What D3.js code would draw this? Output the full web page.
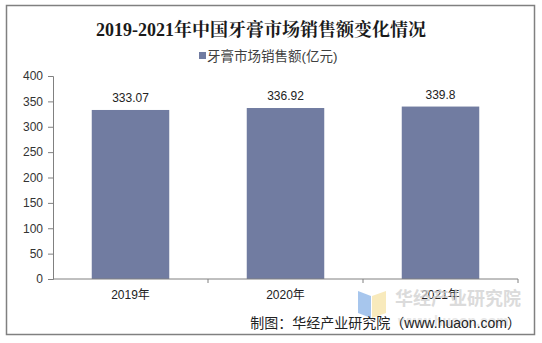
<!DOCTYPE html>
<html>
<head>
<meta charset="utf-8">
<script src="https://cdn.jsdelivr.net/npm/d3@7/dist/d3.min.js"></script>
<style>
  html, body { margin: 0; padding: 0; background: #fff; }
  svg { display: block; }
</style>
</head>
<body>
<svg id="chart" width="542" height="343"></svg>
<script>
// Toothpaste market sales in China, 2019–2021 (100 million yuan)
const categories = ["2019年", "2020年", "2021年"];
const salesValues = [333.07, 336.92, 339.8];
const valueLabels = ["333.07", "336.92", "339.8"];
const yTicks = [0, 50, 100, 150, 200, 250, 300, 350, 400];
const seriesName = "牙膏市场销售额(亿元)";
const titleText = "2019-2021年中国牙膏市场销售额变化情况";
const sourceText = "制图：华经产业研究院（www.huaon.com）";

const svg = d3.select("#chart");
const sans = "Arial, 'Liberation Sans', 'Noto Sans CJK SC', sans-serif";
const serif = "'Liberation Serif', 'Noto Serif CJK SC', 'Noto Sans CJK SC', serif";
const barColor = "#717ca1";

// outer frame
svg.append("rect")
  .attr("x", 6.5).attr("y", 5.5).attr("width", 528).attr("height", 329)
  .attr("fill", "#fff").attr("stroke", "#808080").attr("stroke-width", 1.5);

// title
svg.append("text")
  .attr("x", 261).attr("y", 36)
  .attr("text-anchor", "middle")
  .attr("font-family", serif)
  .attr("font-weight", "bold")
  .attr("font-size", 18)
  .attr("fill", "#1a1a1a")
  .text(titleText);

// legend
svg.append("rect")
  .attr("x", 199).attr("y", 52).attr("width", 7).attr("height", 7)
  .attr("fill", barColor);
svg.append("text")
  .attr("x", 207).attr("y", 61)
  .attr("font-family", sans)
  .attr("font-size", 13.5)
  .attr("fill", "#404040")
  .text(seriesName);

const plot = { left: 53, right: 518, top: 76, bottom: 279 };

const x = d3.scaleBand()
  .domain(categories)
  .range([plot.left, plot.right])
  .paddingInner(0.5)
  .paddingOuter(0.25);

const y = d3.scaleLinear()
  .domain([0, 400])
  .range([plot.bottom, plot.top]);

// y axis
const yAxis = svg.append("g")
  .attr("transform", `translate(${plot.left},0)`)
  .call(d3.axisLeft(y).tickValues(yTicks).tickSize(5).tickPadding(5));
yAxis.select(".domain").attr("stroke", "#808080");
yAxis.selectAll(".tick line").attr("stroke", "#808080");
yAxis.selectAll(".tick text")
  .attr("font-family", sans).attr("font-size", 12).attr("fill", "#333");

// bars
svg.append("g").selectAll("rect")
  .data(salesValues)
  .join("rect")
  .attr("x", (d, i) => x(categories[i]))
  .attr("y", d => y(d))
  .attr("width", x.bandwidth())
  .attr("height", d => y(0) - y(d))
  .attr("fill", barColor);

// value labels
svg.append("g").selectAll("text")
  .data(salesValues)
  .join("text")
  .attr("x", (d, i) => x(categories[i]) + x.bandwidth() / 2)
  .attr("y", d => y(d) - 8)
  .attr("text-anchor", "middle")
  .attr("font-family", sans)
  .attr("font-size", 12)
  .attr("fill", "#222")
  .text((d, i) => valueLabels[i]);

// x axis with ticks at band boundaries
const xAxisG = svg.append("g").attr("transform", `translate(0,${plot.bottom})`);
xAxisG.append("line")
  .attr("x1", plot.left).attr("x2", plot.right)
  .attr("stroke", "#808080");
const bandSpan = (plot.right - plot.left) / categories.length;
const boundaries = categories.map((c, i) => plot.left + bandSpan * (i + 1));
xAxisG.selectAll("line.tick")
  .data(boundaries)
  .join("line")
  .attr("class", "tick")
  .attr("x1", d => d).attr("x2", d => d)
  .attr("y1", 0).attr("y2", 4)
  .attr("stroke", "#808080");

// watermark logo and name
const wm = svg.append("g").attr("opacity", 0.75);
wm.append("path")
  .attr("d", "M358,291 L371,296 L371,318 L358,313 Z")
  .attr("fill", "#8ab4e8");
wm.append("path")
  .attr("d", "M372,296 L386,291 L386,313 L372,318 Z")
  .attr("fill", "#f6e3a6");
wm.append("text")
  .attr("x", 395).attr("y", 305)
  .attr("font-family", "'Noto Sans CJK SC', sans-serif")
  .attr("font-weight", "bold")
  .attr("font-size", 18)
  .attr("fill", "#cfcfcf")
  .text("华经产业研究院");
wm.append("text")
  .attr("x", 398).attr("y", 326)
  .attr("font-family", sans)
  .attr("font-weight", "bold")
  .attr("font-size", 14)
  .attr("fill", "#e0e0e0")
  .text("www.huaon.com");

// category labels
xAxisG.selectAll("text")
  .data(categories)
  .join("text")
  .attr("x", d => x(d) + x.bandwidth() / 2)
  .attr("y", 20)
  .attr("text-anchor", "middle")
  .attr("font-family", sans)
  .attr("font-size", 12)
  .attr("fill", "#222")
  .text(d => d);

// source note
svg.append("text")
  .attr("x", 521).attr("y", 328)
  .attr("text-anchor", "end")
  .attr("font-family", sans)
  .attr("font-size", 14)
  .attr("fill", "#222")
  .text(sourceText);
</script>
</body>
</html>
